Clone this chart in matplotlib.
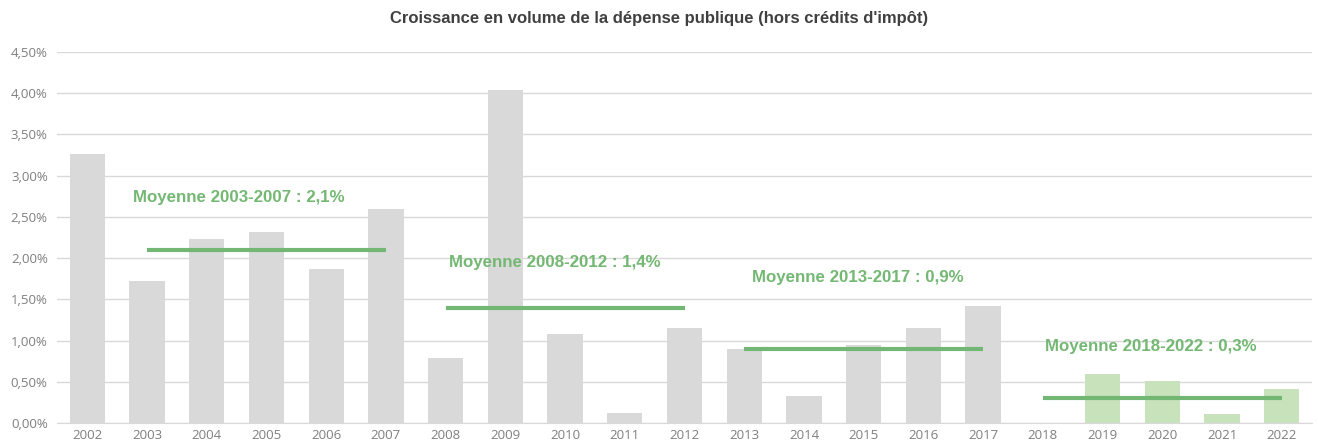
import numpy as np
import matplotlib.pyplot as plt
from matplotlib.ticker import FuncFormatter

annees = [str(a) for a in range(2002, 2023)]
croissance = [3.26, 1.72, 2.23, 2.32, 1.87, 2.59, 0.79, 4.04, 1.08, 0.12, 1.15,
              0.90, 0.33, 0.94, 1.15, 1.42, 0.0, 0.60, 0.51, 0.11, 0.41]
periodes = [('2003', '2007'), ('2008', '2012'), ('2013', '2017'), ('2018', '2022')]
moyennes = [2.1, 1.4, 0.9, 0.3]
pos_textes = [(0.77, 2.73), (6.06, 1.95), (11.13, 1.76), (16.03, 0.93)]

plt.rcParams['font.family'] = ['Liberation Sans', 'DejaVu Sans']

fig = plt.figure(figsize=(13.18, 4.44), dpi=100)
ax = fig.add_axes([0.0436, 0.0473, 0.9515, 0.8357])

x = np.arange(len(annees))
couleurs = ['#d9d9d9' if int(a) < 2018 else '#c8e2bb' for a in annees]
ax.bar(x, croissance, width=0.59, color=couleurs, zorder=2)

for (d, f), m in zip(periodes, moyennes):
    ax.plot([annees.index(d), annees.index(f)], [m, m], color='#72b774', lw=3,
            zorder=3, solid_capstyle='butt')

for (tx, ty), (d, f), m in zip(pos_textes, periodes, moyennes):
    ax.text(tx, ty, f'Moyenne {d}-{f} : {m:.1f}%'.replace('.', ','), color='#74b874',
            fontsize=12.2, fontweight='bold', va='center', ha='left', zorder=4)

ax.set_xlim(-0.5, len(annees) - 0.5)
ax.set_ylim(0, 4.5)
ax.set_yticks(np.arange(0, 4.51, 0.5))
ax.yaxis.set_major_formatter(FuncFormatter(lambda v, _: f'{v:.2f}%'.replace('.', ',')))
ax.set_xticks(x)
ax.set_xticklabels(annees)
ax.tick_params(axis='both', length=0, colors='#7f7f7f')
ax.tick_params(axis='y', pad=7)
ax.tick_params(axis='x', pad=4)
for lab in ax.get_xticklabels() + ax.get_yticklabels():
    lab.set_family(['Open Sans', 'DejaVu Sans'])
    lab.set_fontsize(9.5)
ax.grid(axis='y', color='#d9d9d9', lw=1, zorder=0)
for s in ['top', 'right', 'left']:
    ax.spines[s].set_visible(False)
ax.spines['bottom'].set_color('#d9d9d9')

fig.text(0.5, 0.959, "Croissance en volume de la dépense publique (hors crédits d'impôt)",
         ha='center', va='center', fontsize=12, fontweight='bold', color='#404040')

fig.savefig('out.png', dpi=100)
